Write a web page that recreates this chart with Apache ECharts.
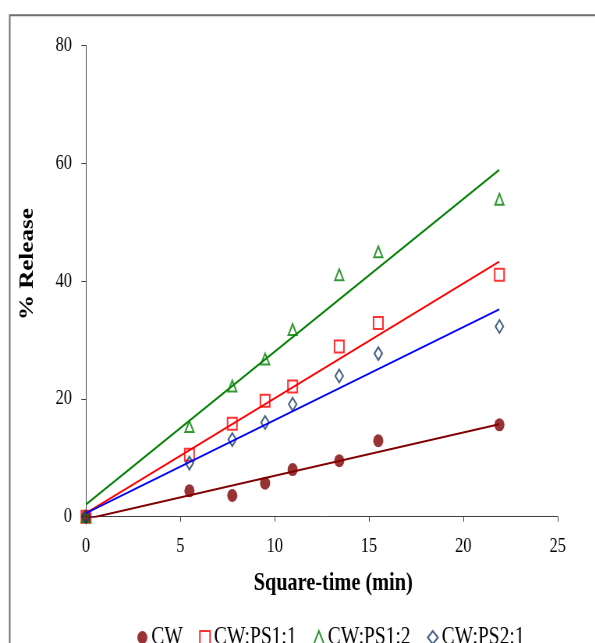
<!DOCTYPE html>
<html>
<head>
<meta charset="utf-8">
<script src="https://cdn.jsdelivr.net/npm/echarts@6/dist/echarts.min.js"></script>
<style>
html, body { margin: 0; padding: 0; overflow: hidden; background: #fff; width: 595px; height: 643px; }
#chart { width: 763px; height: 643px; transform: scaleX(0.78); transform-origin: 0 0; }
</style>
</head>
<body>
<div id="chart"></div>
<script>
// Square-root of time (x values)
var sqrtTime = [0, 5.48, 7.75, 9.49, 10.95, 13.42, 15.49, 21.91];
// % Release values per formulation
var releaseCW     = [0, 4.4, 3.6, 5.7, 8.0, 9.5, 12.9, 15.6];
var releasePS1_1  = [0, 10.5, 15.8, 19.7, 22.1, 28.9, 32.9, 41.1];
var releasePS1_2  = [0, 15.3, 22.2, 26.8, 31.8, 41.1, 45.0, 53.9];
var releasePS2_1  = [0, 9.1, 13.1, 16.0, 19.1, 23.9, 27.7, 32.3];
// Linear trend line end points
var trendX        = [0, 21.9];
var trendCW       = [-0.4, 15.7];
var trendPS1_1    = [0.6, 43.3];
var trendPS1_2    = [2.1, 58.9];
var trendPS2_1    = [0.6, 35.2];
var seriesNames   = ['CW', 'CW:PS1:1', 'CW:PS1:2', 'CW:PS2:1'];
var xTicks = { min: 0, max: 25, interval: 5 };
var yTicks = { min: 0, max: 80, interval: 20 };

function pairs(xs, ys) { return xs.map(function (x, i) { return [x, ys[i]]; }); }

var serif = '"Liberation Serif", "Times New Roman", serif';
var chart = echarts.init(document.getElementById('chart'), null, { renderer: 'canvas' });

function scatter(name, ys, symbol, size, color, filled) {
  return {
    name: name, type: 'scatter', data: pairs(sqrtTime, ys),
    symbol: symbol, symbolSize: size, z: 3,
    itemStyle: filled ? { color: color } : { color: 'rgba(255,255,255,0)', borderColor: color, borderWidth: 2 }
  };
}
function trend(name, ys, color) {
  return {
    name: name, type: 'line', data: pairs(trendX, ys), symbol: 'none', z: 4,
    lineStyle: { color: color, width: 2 }, clip: true, silent: true
  };
}

chart.setOption({
  animation: false,
  backgroundColor: '#fff',
  graphic: [{
    type: 'rect', left: 10, top: 12.7, z: 0,
    shape: { width: 800, height: 700 },
    style: { fill: 'none', stroke: '#6f6f6f', lineWidth: 2 }
  }],
  grid: { left: 110.3, right: 48, top: 45.6, bottom: 126.3 },
  legend: {
    data: seriesNames,
    top: 620, left: 171,
    itemWidth: 13, itemHeight: 13, itemGap: 21,
    textStyle: { fontFamily: serif, fontSize: 25, color: '#000' }
  },
  xAxis: {
    type: 'value', min: xTicks.min, max: xTicks.max, interval: xTicks.interval,
    name: 'Square-time (min)', nameLocation: 'middle', nameGap: 54,
    nameTextStyle: { fontFamily: serif, fontSize: 26, fontWeight: 'bold', color: '#000', padding: [0, 0, 0, 29] },
    axisLine: { lineStyle: { color: '#404040', width: 1 } },
    axisTick: { show: true, inside: false, length: 5, lineStyle: { color: '#404040' } },
    axisLabel: { fontFamily: serif, fontSize: 21, color: '#000', margin: 19 },
    splitLine: { show: false }
  },
  yAxis: {
    type: 'value', min: yTicks.min, max: yTicks.max, interval: yTicks.interval,
    name: '% Release', nameLocation: 'middle', nameGap: 62,
    nameTextStyle: { fontFamily: serif, fontSize: 25, fontWeight: 'bold', color: '#000', padding: [0, 0, 0, 34] },
    axisLine: { show: true, lineStyle: { color: '#404040', width: 1 } },
    axisTick: { show: true, inside: false, length: 6, lineStyle: { color: '#404040' } },
    axisLabel: { fontFamily: serif, fontSize: 21, color: '#000', margin: 18 },
    splitLine: { show: false }
  },
  series: [
    scatter(seriesNames[0], releaseCW, 'circle', 13, '#7f0000', true),
    scatter(seriesNames[1], releasePS1_1, 'rect', [12, 12], '#ff0000', false),
    scatter(seriesNames[2], releasePS1_2, 'triangle', [11, 11], '#008000', false),
    scatter(seriesNames[3], releasePS2_1, 'diamond', [10, 13], '#1a3c6a', false),
    trend('CW trend', trendCW, '#800000'),
    trend('CW:PS1:1 trend', trendPS1_1, '#ff0000'),
    trend('CW:PS1:2 trend', trendPS1_2, '#008000'),
    trend('CW:PS2:1 trend', trendPS2_1, '#0000ff')
  ]
});
</script>
</body>
</html>
